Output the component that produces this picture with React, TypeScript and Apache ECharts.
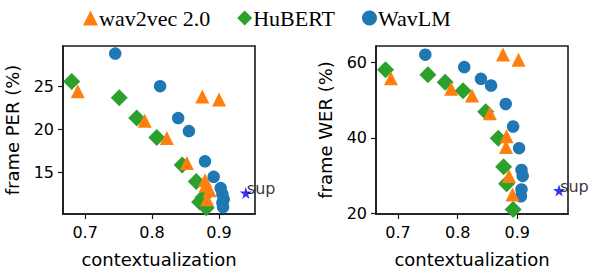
import React, { useEffect, useRef } from "react";
import * as echarts from "echarts";

// ---- data ----
const xTicks = [0.7, 0.8, 0.9];
const perTicks = [15, 20, 25];
const werTicks = [20, 40, 60];

// frame PER (%) vs contextualization
const perWav2vec: number[][] = [
  [0.689, 24.4], [0.789, 21.0], [0.822, 19.0], [0.852, 16.1], [0.875, 23.8],
  [0.9, 23.45], [0.879, 14.1], [0.88, 13.5], [0.886, 12.95], [0.882, 11.9],
];
const perHubert: number[][] = [
  [0.68, 25.55], [0.751, 23.65], [0.777, 21.3], [0.807, 19.07], [0.845, 15.86],
  [0.866, 13.95], [0.871, 11.6], [0.876, 12.1], [0.881, 10.93],
];
const perWavlm: number[][] = [
  [0.745, 28.77], [0.812, 25.0], [0.839, 21.3], [0.855, 19.8], [0.879, 16.3],
  [0.892, 14.5], [0.9025, 13.2], [0.905, 12.5], [0.907, 11.9], [0.905, 11.5], [0.906, 11.0],
];
const perSup: number[][] = [[0.94, 12.64]];

// frame WER (%) vs contextualization
const werWav2vec: number[][] = [
  [0.688, 55.8], [0.789, 53.0], [0.824, 51.2], [0.854, 46.5], [0.876, 62.1],
  [0.902, 60.7], [0.882, 40.4], [0.881, 37.6], [0.886, 29.9], [0.892, 25.0],
];
const werHubert: number[][] = [
  [0.679, 58.05], [0.75, 56.7], [0.779, 54.75], [0.809, 52.5], [0.847, 46.9],
  [0.868, 39.9], [0.877, 32.3], [0.882, 27.8], [0.893, 21.0],
];
const werWavlm: number[][] = [
  [0.7457, 62.05], [0.811, 58.75], [0.839, 55.65], [0.856, 53.87], [0.8806, 48.97],
  [0.893, 43.0], [0.903, 37.25], [0.907, 31.5], [0.909, 29.9], [0.907, 26.3], [0.906, 24.5],
];
const werSup: number[][] = [[0.97, 26.05]];

const names = ["wav2vec 2.0", "HuBERT", "WavLM"];
const colors = { w2v: "#ff7f0e", hub: "#2ca02c", wlm: "#1f77b4" };

const STAR =
  "path://M50,0 L61.8,35.1 L98.1,35.1 L68.8,56.7 L79.4,91 L50,70 L20.6,91 L31.2,56.7 L1.9,35.1 L38.2,35.1 Z";

const FONT = "DejaVu Sans";

function xAxis(gridIndex: number, min: number, max: number) {
  return {
    type: "value",
    gridIndex,
    min,
    max,
    splitLine: { show: false },
    axisLine: { show: true, lineStyle: { color: "#1a1a1a", width: 1.6 } },
    axisTick: { show: true, length: 5, lineStyle: { color: "#1a1a1a", width: 1.2 }, customValues: xTicks },
    axisLabel: { customValues: xTicks, color: "#000", fontFamily: FONT, fontSize: 16, margin: 10 },
    name: "contextualization",
    nameLocation: "middle",
    nameGap: 36,
    nameTextStyle: { color: "#000", fontFamily: FONT, fontSize: 18, lineHeight: 18 },
  };
}

function yAxis(gridIndex: number, min: number, max: number, ticks: number[], name: string) {
  return {
    type: "value",
    gridIndex,
    min,
    max,
    splitLine: { show: false },
    axisLine: { show: true, lineStyle: { color: "#1a1a1a", width: 1.6 } },
    axisTick: { show: true, length: 5, lineStyle: { color: "#1a1a1a", width: 1.2 }, customValues: ticks },
    axisLabel: { customValues: ticks, color: "#000", fontFamily: FONT, fontSize: 16, margin: 9 },
    name,
    nameLocation: "middle",
    nameGap: 42,
    nameTextStyle: { color: "#000", fontFamily: FONT, fontSize: 18, lineHeight: 18 },
  };
}

function scatter(name: string, data: number[][], idx: number, symbol: string, size: number, color: string) {
  return {
    type: "scatter",
    name,
    xAxisIndex: idx,
    yAxisIndex: idx,
    data,
    symbol,
    symbolSize: size,
    itemStyle: { color, opacity: 1 },
    emphasis: { disabled: true },
  };
}

function supSeries(data: number[][], idx: number) {
  return {
    type: "scatter",
    name: "sup",
    xAxisIndex: idx,
    yAxisIndex: idx,
    data,
    symbol: STAR,
    symbolSize: 12,
    itemStyle: { color: "#0000ff" },
    label: {
      show: true,
      formatter: "sup",
      position: [7, 6],
      align: "left",
      verticalAlign: "bottom",
      offset: [0, 4],
      color: "#000",
      fontFamily: FONT,
      fontSize: 16,
    },
    emphasis: { disabled: true },
  };
}

export default function App() {
  const ref = useRef<HTMLDivElement>(null);
  useEffect(() => {
    if (!ref.current) return;
    const chart = echarts.init(ref.current, null, { renderer: "svg" });
    const grids = [
      { left: 63, top: 46, width: 192, height: 168 },
      { left: 376, top: 46, width: 192, height: 168 },
    ].map((g) => ({
      ...g,
      show: true,
      outerBoundsMode: "none",
      containLabel: false,
      borderColor: "#1a1a1a",
      borderWidth: 1.6,
      backgroundColor: "transparent",
    }));
    chart.setOption({
      animation: false,
      grid: grids,
      legend: {
        data: [
          { name: names[0], icon: "triangle" },
          { name: names[1], icon: "diamond" },
          { name: names[2], icon: "circle" },
        ],
        left: 78,
        top: 2,
        itemWidth: 15,
        itemHeight: 15,
        itemGap: 27,
        textStyle: { color: "#000", fontFamily: "Liberation Serif", fontSize: 22, padding: [0, 0, 0, -4] },
        selectedMode: false,
      },
      xAxis: [xAxis(0, 0.667, 0.9537), xAxis(1, 0.663, 0.985)],
      yAxis: [
        yAxis(0, 10.2, 29.65, perTicks, "frame PER (%)"),
        yAxis(1, 19.8, 64.35, werTicks, "frame WER (%)"),
      ],
      series: [
        scatter(names[1], perHubert, 0, "diamond", 17, colors.hub),
        scatter(names[2], perWavlm, 0, "circle", 12.5, colors.wlm),
        scatter(names[0], perWav2vec, 0, "triangle", 14, colors.w2v),
        supSeries(perSup, 0),
        scatter(names[1], werHubert, 1, "diamond", 17, colors.hub),
        scatter(names[2], werWavlm, 1, "circle", 12.5, colors.wlm),
        scatter(names[0], werWav2vec, 1, "triangle", 14, colors.w2v),
        supSeries(werSup, 1),
      ],
    });
    return () => chart.dispose();
  }, []);
  return (
    <div
      ref={ref}
      style={{ position: "fixed", left: 0, top: 0, width: 594, height: 268, background: "#fff" }}
    />
  );
}
